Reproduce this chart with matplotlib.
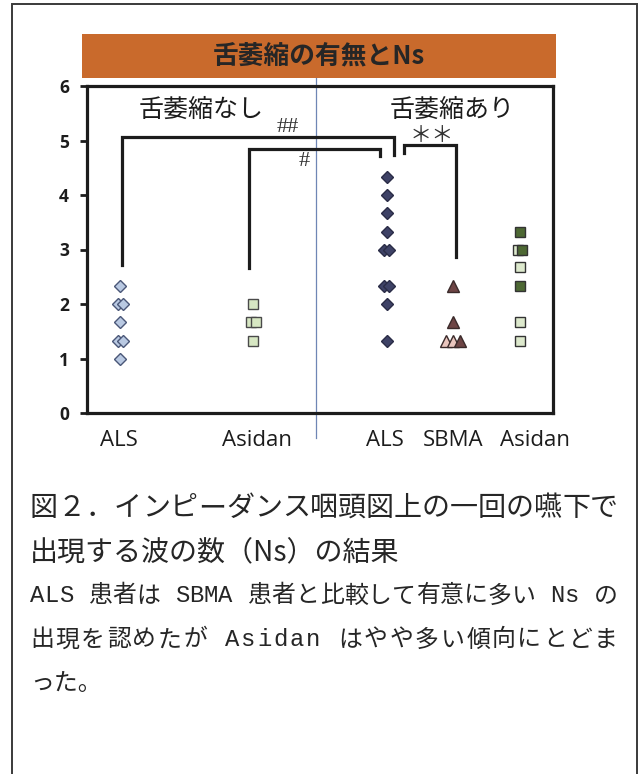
import matplotlib
matplotlib.use("Agg")
import matplotlib.pyplot as plt
from matplotlib.patches import Rectangle

plt.rcParams["font.family"] = ["Open Sans", "Noto Sans CJK JP", "DejaVu Sans"]

W, H = 644, 774

# ---------------------------------------------------------------------------
# Data (Ns per swallow)
# ---------------------------------------------------------------------------
CATEGORIES = ["ALS", "Asidan", "ALS", "SBMA", "Asidan"]
CAT_POS = [0.5, 2.5, 4.5, 5.5, 6.5]
LABEL_POS = [0.48, 2.55, 4.47, 5.5, 6.73]

ALS_NONE = [2.33, 2.0, 2.0, 1.67, 1.33, 1.33, 1.0]
ASIDAN_NONE = [2.0, 1.67, 1.67, 1.33]
ALS_ATROPHY = [4.33, 4.0, 3.67, 3.33, 3.0, 3.0, 2.33, 2.33, 2.0, 1.33]
SBMA_LIGHT = [1.33, 1.33]
SBMA_DARK = [2.33, 1.67, 1.33]
ASIDAN_LIGHT = [3.0, 2.67, 1.67, 1.33]
ASIDAN_DARK = [3.33, 3.0, 2.33]

# significance brackets: x_left, y_left, y_top, x_right, y_right, label, label pos
BRACKETS = [
    (0.53, 2.72, 5.06, 4.61, 4.73, "##", (3.02, 5.23)),
    (2.43, 2.66, 4.84, 4.40, 4.72, "#", (3.26, 4.62)),
    (4.76, 4.77, 4.92, 5.54, 2.86, "＊＊", (5.18, 5.06)),
]

TITLE = "舌萎縮の有無とNs"
GROUP_LABELS = [("舌萎縮なし", 1.72), ("舌萎縮あり", 5.48)]
CAPTION_BIG = ["図２．インピーダンス咽頭図上の一回の嚥下で",
               "出現する波の数（Ns）の結果"]
CAPTION_SMALL = ["ALS 患者は SBMA 患者と比較して有意に多い Ns の",
                 "出現を認めたが Asidan はやや多い傾向にとどま",
                 "った。"]


def offsets(values, step):
    total = {v: values.count(v) for v in values}
    seen = {}
    out = []
    for v in values:
        k = seen.get(v, 0)
        seen[v] = k + 1
        out.append((k - (total[v] - 1) / 2) * step)
    return out


def fx(px):
    return px / W


def fy(py):
    return 1 - py / H


fig = plt.figure(figsize=(W / 100, H / 100), dpi=100)
fig.patch.set_facecolor("white")

# outer frame
fig.add_artist(Rectangle((fx(12), -0.02), fx(637) - fx(12), fy(4) + 0.02,
                         transform=fig.transFigure, fill=False,
                         edgecolor="#3a3a3a", linewidth=1.4))

# title banner
fig.add_artist(Rectangle((fx(82), fy(78)), fx(556) - fx(82), fy(34) - fy(78),
                         transform=fig.transFigure, facecolor="#c96a2c",
                         edgecolor="none"))
fig.text(fx(319), fy(56), TITLE, ha="center", va="center", fontsize=18.5,
         fontweight="bold", color="#262626",
         family=["Noto Sans CJK JP", "DejaVu Sans"])

ax = fig.add_axes([fx(87), fy(413), fx(553) - fx(87), fy(86) - fy(413)])
ax.set_xlim(0, 7)
ax.set_ylim(0, 6)
for sp in ax.spines.values():
    sp.set_linewidth(2.3)
    sp.set_color("#1c1c1c")

ax.set_yticks(range(0, 7))
ax.tick_params(axis="y", direction="out", length=5, width=2, labelsize=12.5,
               pad=8, colors="#1c1c1c")
for lab in ax.get_yticklabels():
    lab.set_fontweight("bold")
ax.set_xticks([])
for lab, x in zip(CATEGORIES, LABEL_POS):
    ax.text(x, -0.5, lab, ha="center", va="center", fontsize=16,
            color="#1c1c1c")

# divider between the two groups
ax.plot([3.44, 3.44], [-0.46, 6.15], color="#6f86b5", lw=0.9, clip_on=False,
        zorder=1)

# points
def draw(xc, vals, marker, faces, edge, size, step):
    offs = offsets(vals, step)
    for v, o, fcol in zip(vals, offs, faces):
        ax.plot(xc + o, v, marker=marker, markersize=size, markerfacecolor=fcol,
                markeredgecolor=edge, markeredgewidth=1.0, linestyle="none",
                zorder=4)

draw(CAT_POS[0], ALS_NONE, "D", ["#b9c9e2"] * len(ALS_NONE), "#4a5778", 6.5, 0.07)
draw(CAT_POS[1], ASIDAN_NONE, "s", ["#d7e7c3"] * len(ASIDAN_NONE), "#4a4a4a", 7, 0.08)
draw(CAT_POS[2], ALS_ATROPHY, "D", ["#3e4266"] * len(ALS_ATROPHY), "#2a2c46", 6.5, 0.07)
draw(CAT_POS[3], SBMA_LIGHT + SBMA_DARK, "^",
     ["#e9c5bd"] * len(SBMA_LIGHT) + ["#6e4545"] * len(SBMA_DARK), "#3a2a2a", 8, 0.1)
draw(CAT_POS[4], ASIDAN_LIGHT + ASIDAN_DARK, "s",
     ["#dde9cd"] * len(ASIDAN_LIGHT) + ["#4d6833"] * len(ASIDAN_DARK), "#333333", 7, 0.06)

# brackets
for xl, yl, yt, xr, yr, lab, (tx, ty) in BRACKETS:
    ax.plot([xl, xl, xr, xr], [yl, yt, yt, yr], color="#1c1c1c", lw=2.3,
            solid_joinstyle="miter", zorder=3)
    ax.text(tx, ty, lab, ha="center", va="center", fontsize=16,
            color="#333333", family=["Liberation Serif", "Noto Sans CJK JP"])

for txt, x in GROUP_LABELS:
    ax.text(x, 5.57, txt, ha="center", va="center", fontsize=18,
            color="#1c1c1c", family=["Noto Sans CJK JP"])

# caption
renderer = fig.canvas.get_renderer()


def justified(line, y, size, family, right):
    # place character by character so the line fills [30, right] like the print
    widths = []
    for ch in line:
        t = fig.text(0, 0, ch, fontsize=size, family=family)
        widths.append(t.get_window_extent(renderer).width)
        t.remove()
    gap = (right - 30 - sum(widths)) / (len(line) - 1)
    x = 30
    for ch, w in zip(line, widths):
        fig.text(fx(x), fy(y), ch, ha="left", va="center", fontsize=size,
                 color="#262626", family=family)
        x += w + gap


cap_font = ["Noto Sans CJK JP", "DejaVu Sans"]
small_font = ["Liberation Mono", "Noto Sans CJK JP"]
justified(CAPTION_BIG[0], 508, 20.2, cap_font, 618)
fig.text(fx(30), fy(552), CAPTION_BIG[1], ha="left", va="center",
         fontsize=20.2, color="#262626", family=cap_font)
justified(CAPTION_SMALL[0], 596, 17.2, small_font, 618)
justified(CAPTION_SMALL[1], 640, 17.2, small_font, 618)
fig.text(fx(30), fy(684), CAPTION_SMALL[2], ha="left", va="center",
         fontsize=17.2, color="#262626", family=small_font)

fig.savefig("out.png", dpi=100)
